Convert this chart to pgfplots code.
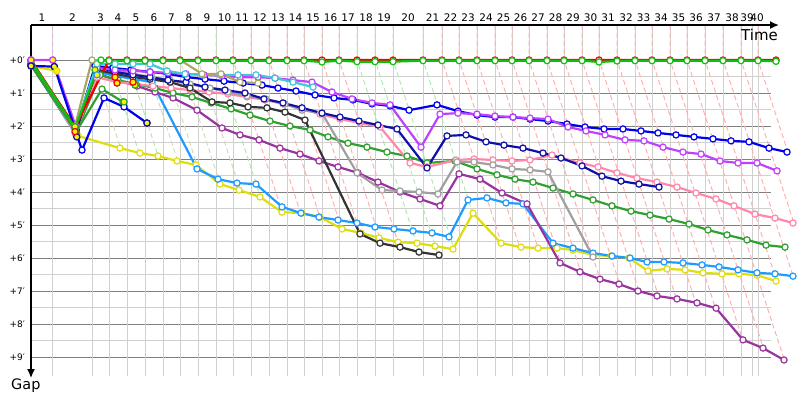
\documentclass[border=0pt]{standalone}
\usepackage{pgfplots}
\pgfplotsset{compat=1.18}
\usepackage{fontspec}
\setmainfont{DejaVu Sans}
\usetikzlibrary{arrows.meta}
\definecolor{cRed}{HTML}{F00000}
\definecolor{cGreen}{HTML}{10C010}
\definecolor{cOlive}{HTML}{A8A864}
\definecolor{cCyan}{HTML}{40C8D4}
\definecolor{cViolet}{HTML}{C040FF}
\definecolor{cBlue}{HTML}{0000F0}
\definecolor{cNavy}{HTML}{1010A8}
\definecolor{cPink}{HTML}{FF88AA}
\definecolor{cBlack}{HTML}{333333}
\definecolor{cGray}{HTML}{A0A0A0}
\definecolor{cGreenB}{HTML}{30A030}
\definecolor{cPurple}{HTML}{9933A0}
\definecolor{cLBlue}{HTML}{1E9BFF}
\definecolor{cYellow}{HTML}{DDDD10}
\definecolor{gMinor}{HTML}{D0D0D0}
\definecolor{gMajor}{HTML}{808080}
\definecolor{dPink}{HTML}{FFB0B0}
\definecolor{dGreen}{HTML}{B4E6B4}
\definecolor{dTan}{HTML}{D8D8C0}
\definecolor{dViolet}{HTML}{E4B4E4}
\pgfplotsset{
  ser/.style={color=#1, line width=2.2bp, mark=*, mark size=3.1bp,
    mark options={fill=white, line width=1.2bp, solid}},
  lap/.style={color=#1, line width=1bp, dash pattern=on 5bp off 3bp, no marks},
  pit/.style={only marks, mark=*, mark size=3.1bp,
    mark options={fill=yellow, draw=#1, line width=1.2bp}},
}
\begin{document}
\begin{tikzpicture}
\begin{axis}[width=800bp, height=400bp, scale only axis,
  xmin=0, xmax=800, ymin=-1.81818, ymax=10.30303, y dir=reverse,
  hide axis, clip=false]
\path (axis cs:0,-1.81818) rectangle (axis cs:800,10.30303);
% horizontal grid
\foreach \g in {0.5,1.5,2.5,3.5,4.5,5.5,6.5,7.5,8.5}{
  \edef\tmp{\noexpand\draw[gMinor, line width=1bp] (axis cs:31,\g) -- (axis cs:771,\g);}\tmp}
\foreach \g in {0,1,2,3,4,5,6,7,8,9}{
  \edef\tmp{\noexpand\draw[gMajor, line width=1bp] (axis cs:31,\g) -- (axis cs:771,\g);}\tmp}
% vertical grid (lap ends)
\foreach \x in {52.7,92,109,127,145,163,180,198,216,233,251,269,287,304,322,339,357,375,393,423,442,459,477,495,512,529,547,564,582,599,617,635,652,670,687,705,723,741,752,758}{
  \edef\tmp{\noexpand\draw[gMinor, line width=1bp] (axis cs:\x,-1.06) -- (axis cs:\x,9.58);}\tmp}
% lap crossing lines
\addplot[lap=dViolet] coordinates {(52.7,-1.06) (52.7,0) (81.9,2.73)};
\addplot[lap=dTan] coordinates {(92,-1.06) (92,0) (120.6,2.67)};
\addplot[lap=dGreen] coordinates {(109,-1.06) (109,0) (139.2,2.82)};
\addplot[lap=dGreen] coordinates {(127,-1.06) (127,0) (158.1,2.91)};
\addplot[lap=dTan] coordinates {(145,-1.06) (145,0) (177.7,3.06)};
\addplot[lap=dTan] coordinates {(163,-1.06) (163,0) (197.0,3.18)};
\addplot[lap=dTan] coordinates {(180,-1.06) (180,0) (220.2,3.76)};
\addplot[lap=dTan] coordinates {(198,-1.06) (198,0) (240.2,3.94)};
\addplot[lap=dGreen] coordinates {(216,-1.06) (216,0) (260.4,4.15)};
\addplot[lap=dPink] coordinates {(233,-1.06) (233,0) (282.2,4.60)};
\addplot[lap=dPink] coordinates {(251,-1.06) (251,0) (300.6,4.64)};
\addplot[lap=dPink] coordinates {(269,-1.06) (269,0) (319.9,4.76)};
\addplot[lap=dPink] coordinates {(287,-1.06) (287,0) (341.8,5.12)};
\addplot[lap=dPink] coordinates {(304,-1.06) (304,0) (360.4,5.27)};
\addplot[lap=dPink] coordinates {(322,-1.06) (322,0) (381.4,5.55)};
\addplot[lap=dPink] coordinates {(339,-1.06) (339,0) (399.7,5.67)};
\addplot[lap=dGreen] coordinates {(357,-1.06) (357,0) (419.3,5.82)};
\addplot[lap=dGreen] coordinates {(375,-1.06) (375,0) (438.1,5.90)};
\addplot[lap=dGreen] coordinates {(393,-1.06) (393,0) (454.3,5.73)};
\addplot[lap=dGreen] coordinates {(423,-1.06) (423,0) (472.6,4.64)};
\addplot[lap=dPink] coordinates {(442,-1.06) (442,0) (501.4,5.55)};
\addplot[lap=dPink] coordinates {(459,-1.06) (459,0) (519.7,5.67)};
\addplot[lap=dPink] coordinates {(477,-1.06) (477,0) (538.0,5.70)};
\addplot[lap=dPink] coordinates {(495,-1.06) (495,0) (560.8,6.15)};
\addplot[lap=dPink] coordinates {(512,-1.06) (512,0) (580.7,6.42)};
\addplot[lap=dPink] coordinates {(529,-1.06) (529,0) (600.0,6.64)};
\addplot[lap=dPink] coordinates {(547,-1.06) (547,0) (619.7,6.79)};
\addplot[lap=dPink] coordinates {(564,-1.06) (564,0) (638.9,7.00)};
\addplot[lap=dPink] coordinates {(582,-1.06) (582,0) (658.5,7.15)};
\addplot[lap=dPink] coordinates {(599,-1.06) (599,0) (676.5,7.24)};
\addplot[lap=dPink] coordinates {(617,-1.06) (617,0) (695.8,7.36)};
\addplot[lap=dPink] coordinates {(635,-1.06) (635,0) (715.5,7.52)};
\addplot[lap=dPink] coordinates {(652,-1.06) (652,0) (742.7,8.48)};
\addplot[lap=dPink] coordinates {(670,-1.06) (670,0) (763.4,8.73)};
\addplot[lap=dPink] coordinates {(687,-1.06) (687,0) (784.3,9.09)};
\addplot[lap=dPink] coordinates {(705,-1.06) (705,0) (776.7,6.70)};
\addplot[lap=dPink] coordinates {(723,-1.06) (723,0) (793.1,6.55)};
\addplot[lap=dPink] coordinates {(741,-1.06) (741,0) (793.9,4.94)};
\addplot[lap=dPink] coordinates {(758,-1.06) (758,0) (787.9,2.79)};
% axes
\draw[black, line width=1.6bp, -{Latex[length=9bp,width=8bp]}] (axis cs:31,-1.06) -- (axis cs:779,-1.06);
\draw[black, line width=1.6bp, -{Latex[length=9bp,width=8bp]}] (axis cs:31,-1.06) -- (axis cs:31,9.64);
\node[anchor=north east, font=\fontsize{15}{15}\selectfont, inner sep=0pt] at (axis cs:778,-0.93) {Time};
\node[anchor=north west, font=\fontsize{14.5}{14.5}\selectfont, inner sep=0pt] at (axis cs:11,9.66) {Gap};
% y labels
\foreach \g in {0,...,9}{
  \edef\tmp{\noexpand\node[anchor=east, font=\noexpand\fontsize{9}{9}\noexpand\selectfont, inner sep=0pt] at (axis cs:25,\g) {+\g′};}\tmp}
% lap labels
\foreach \x/\n in {41.9/1,72.4/2,100.5/3,118/4,136/5,154/6,171.5/7,189/8,207/9,224.5/10,242/11,260/12,278/13,295.5/14,313/15,330.5/16,348/17,366/18,384/19,408/20,432.5/21,450.5/22,468/23,486/24,503.5/25,520.5/26,538/27,555.5/28,573/29,590.5/30,608/31,626/32,643.5/33,661/34,678.5/35,696/36,714/37,732/38,747/39,757/40}{
  \edef\tmp{\noexpand\node[anchor=base, font=\noexpand\fontsize{10.5}{10.5}\noexpand\selectfont, inner sep=0pt] at (axis cs:\x,-1.17) {\n};}\tmp}
% ---------- series ----------
\addplot[ser=cYellow] coordinates {(31,0.18) (56.7,0.33) (78,2.30) (120,2.67) (140,2.82) (158,2.91) (177,3.06) (196,3.18) (220,3.76) (239,3.94) (260,4.15) (282,4.61) (302,4.64) (320,4.76) (342,5.12) (361,5.24) (379,5.39) (398,5.52) (417,5.55) (435,5.64) (453,5.73) (473,4.64) (501,5.55) (521,5.67) (538,5.70) (557,5.70) (573,5.76) (593,5.91) (611,5.94) (629,6.00) (648,6.39) (667,6.33) (685,6.36) (703,6.45) (722,6.48) (739,6.48) (757,6.52) (776,6.70)};
\addplot[ser=cLBlue] coordinates {(31,0.12) (76,2.27) (97,0.36) (115,0.48) (134,0.58) (152,0.67) (197,3.30) (218,3.61) (237,3.73) (256,3.76) (282,4.45) (301,4.64) (319,4.76) (338,4.85) (357,4.94) (375,5.06) (394,5.12) (413,5.18) (432,5.24) (449,5.36) (468,4.24) (487,4.18) (506,4.33) (523,4.36) (553,5.55) (573,5.70) (593,5.85) (612,5.94) (630,6.00) (647,6.12) (664,6.12) (683,6.15) (702,6.21) (719,6.27) (738,6.36) (757,6.45) (775,6.48) (793,6.55)};
\addplot[ser=cPurple] coordinates {(31,0.15) (76,2.21) (97,0.42) (117,0.61) (137,0.79) (155,0.97) (173,1.15) (197,1.52) (222,2.06) (240,2.27) (259,2.42) (280,2.67) (300,2.85) (319,3.06) (338,3.24) (358,3.42) (378,3.70) (400,4.00) (420,4.21) (440,4.42) (459,3.45) (480,3.61) (502,4.03) (527,4.36) (560,6.15) (580,6.42) (600,6.64) (619,6.79) (638,7.00) (657,7.15) (677,7.24) (697,7.36) (716,7.52) (743,8.48) (763,8.73) (784,9.09)};
\addplot[ser=cGreenB] coordinates {(31,0.15) (76,2.21) (100,0.45) (118,0.61) (136,0.73) (155,0.85) (173,1.00) (192,1.12) (211,1.30) (231,1.48) (250,1.67) (270,1.85) (290,2.00) (310,2.12) (328,2.33) (348,2.52) (367,2.64) (387,2.79) (407,2.91) (427,3.12) (455,3.06) (477,3.30) (497,3.48) (515,3.61) (533,3.70) (553,3.88) (573,4.06) (593,4.24) (612,4.42) (631,4.58) (650,4.70) (669,4.82) (689,4.97) (708,5.15) (727,5.30) (747,5.45) (766,5.61) (785,5.67)};
\addplot[ser=cPink] coordinates {(31,0.06) (75,2.21) (97,0.52) (117,0.67) (135,0.73) (153,0.79) (171,0.85) (190,0.91) (209,0.97) (228,1.03) (247,1.12) (265,1.21) (283,1.33) (302,1.48) (320,1.64) (340,1.79) (360,1.91) (380,2.03) (410,3.12) (427,3.24) (456,3.03) (474,3.00) (493,3.03) (512,3.06) (530,3.03) (552,2.88) (580,3.12) (598,3.24) (617,3.42) (637,3.58) (657,3.70) (677,3.85) (696,4.03) (716,4.21) (734,4.42) (755,4.67) (775,4.79) (793,4.94)};
\addplot[ser=cGray] coordinates {(31,0.09) (76,2.09) (97,0.21) (115,0.33) (133,0.42) (152,0.52) (170,0.61) (190,0.73) (210,0.85) (228,0.97) (247,1.09) (266,1.18) (285,1.33) (302,1.52) (322,1.61) (357,3.42) (382,3.94) (400,3.97) (419,4.00) (438,4.06) (457,3.09) (474,3.09) (493,3.18) (512,3.30) (530,3.33) (548,3.39) (593,5.97)};
\addplot[ser=cBlack] coordinates {(31,0.12) (76,2.12) (97,0.30) (115,0.42) (133,0.52) (150,0.58) (170,0.67) (190,0.85) (212,1.27) (230,1.30) (248,1.42) (267,1.45) (285,1.58) (305,1.82) (360,5.27) (380,5.55) (400,5.67) (419,5.82) (439,5.91)};
\addplot[ser=cNavy] coordinates {(31,0.12) (76,2.15) (97,0.21) (115,0.36) (133,0.45) (150,0.52) (168,0.61) (186,0.67) (205,0.82) (225,0.91) (245,1.00) (264,1.18) (283,1.30) (302,1.45) (322,1.61) (340,1.73) (359,1.85) (378,1.97) (397,2.09) (427,3.27) (447,2.30) (466,2.27) (486,2.48) (504,2.58) (523,2.67) (543,2.82) (561,2.97) (582,3.21) (602,3.52) (621,3.67) (639,3.76) (659,3.85)};
\addplot[ser=cBlue] coordinates {(31,0.12) (76,2.12) (95,0.18) (113,0.24) (131,0.30) (150,0.36) (168,0.42) (187,0.52) (205,0.58) (224,0.64) (243,0.70) (262,0.76) (278,0.85) (296,0.94) (315,1.06) (334,1.15) (353,1.21) (372,1.33) (390,1.39) (409,1.52) (437,1.36) (458,1.55) (477,1.67) (495,1.73) (513,1.73) (530,1.79) (548,1.85) (567,1.94) (585,2.03) (604,2.09) (623,2.09) (641,2.15) (658,2.21) (676,2.27) (694,2.33) (713,2.39) (731,2.45) (749,2.48) (769,2.67) (787,2.79)};
\addplot[ser=cViolet] coordinates {(31,0) (52.7,0) (76,2.03) (97,0.24) (115,0.30) (133,0.33) (150,0.36) (168,0.39) (186,0.42) (204,0.45) (222,0.48) (240,0.52) (258,0.52) (275,0.55) (293,0.61) (312,0.67) (332,0.97) (352,1.18) (372,1.30) (390,1.36) (421,2.64) (440,1.64) (458,1.61) (477,1.64) (495,1.70) (513,1.73) (530,1.76) (548,1.79) (568,2.03) (586,2.15) (605,2.27) (625,2.42) (644,2.45) (663,2.64) (683,2.79) (701,2.85) (720,3.06) (738,3.12) (757,3.12) (777,3.36)};
\addplot[ser=cCyan] coordinates {(31,0.06) (75,2.09) (97,0.12) (115,0.12) (133,0.12) (150,0.12) (167,0.33) (185,0.42) (202,0.45) (220,0.45) (238,0.45) (256,0.45) (275,0.55) (293,0.67) (313,0.82)};
\addplot[ser=cOlive] coordinates {(31,0.06) (75,2.00) (92,0) (109,0.03) (127,0.03) (145,0.03) (163,0) (180,0) (202,0.42) (221,0.42) (240,0.67) (258,0.70)};
\addplot[ser=cGreenB] coordinates {(31,0.15) (76,2.18) (102,0.88) (123,1.27)};
\addplot[ser=cBlue] coordinates {(31,0.18) (54.3,0.20) (82,2.73) (104,1.15) (124,1.42) (147,1.91)};
\addplot[ser=cRed] coordinates {(31,0) (75,2.03) (109,0) (127,0) (145,0) (163,0) (180,0) (198,0) (216,0) (233,0) (251,0) (269,0) (287,0) (304,0) (322,0) (339,0) (357,0) (375,0) (393,0) (423,0) (442,0) (459,0) (477,0) (495,0) (512,0) (529,0) (547,0) (564,0) (582,0) (599,0) (617,0) (635,0) (652,0) (670,0) (687,0) (705,0) (723,0) (741,0) (758,0) (776,0)};
\addplot[ser=cGreen] coordinates {(31,0.03) (75,2.06) (101,0) (109,0.02) (127,0.02) (145,0.02) (163,0.02) (180,0.02) (198,0.02) (216,0.02) (233,0.02) (251,0.02) (269,0.02) (287,0.02) (304,0.02) (322,0.06) (339,0.02) (357,0.05) (375,0.05) (393,0.05) (423,0.02) (442,0.02) (459,0.02) (477,0.02) (495,0.02) (512,0.02) (529,0.02) (547,0.02) (564,0.02) (582,0.02) (599,0.06) (617,0.03) (635,0.02) (652,0.02) (670,0.02) (687,0.02) (705,0.02) (723,0.02) (741,0.02) (758,0.02) (776,0.04)};
% yellow-filled marks
\addplot[pit=cViolet] coordinates {(31,0) (52.7,0)};
\addplot[pit=cNavy] coordinates {(31,0.18) (54.3,0.20) (76.7,2.33) (147,1.91)};
\addplot[pit=cYellow] coordinates {(56.7,0.33)};
\addplot[pit=cGreenB] coordinates {(75,2.02) (95,0.30) (135,0.76) (124,1.27)};
\addplot[pit=cRed] coordinates {(75,2.17) (115,0.52) (117,0.70) (133,0.67)};
\addplot[pit=cLBlue] coordinates {(97,0.45)};
\end{axis}
\end{tikzpicture}
\end{document}
